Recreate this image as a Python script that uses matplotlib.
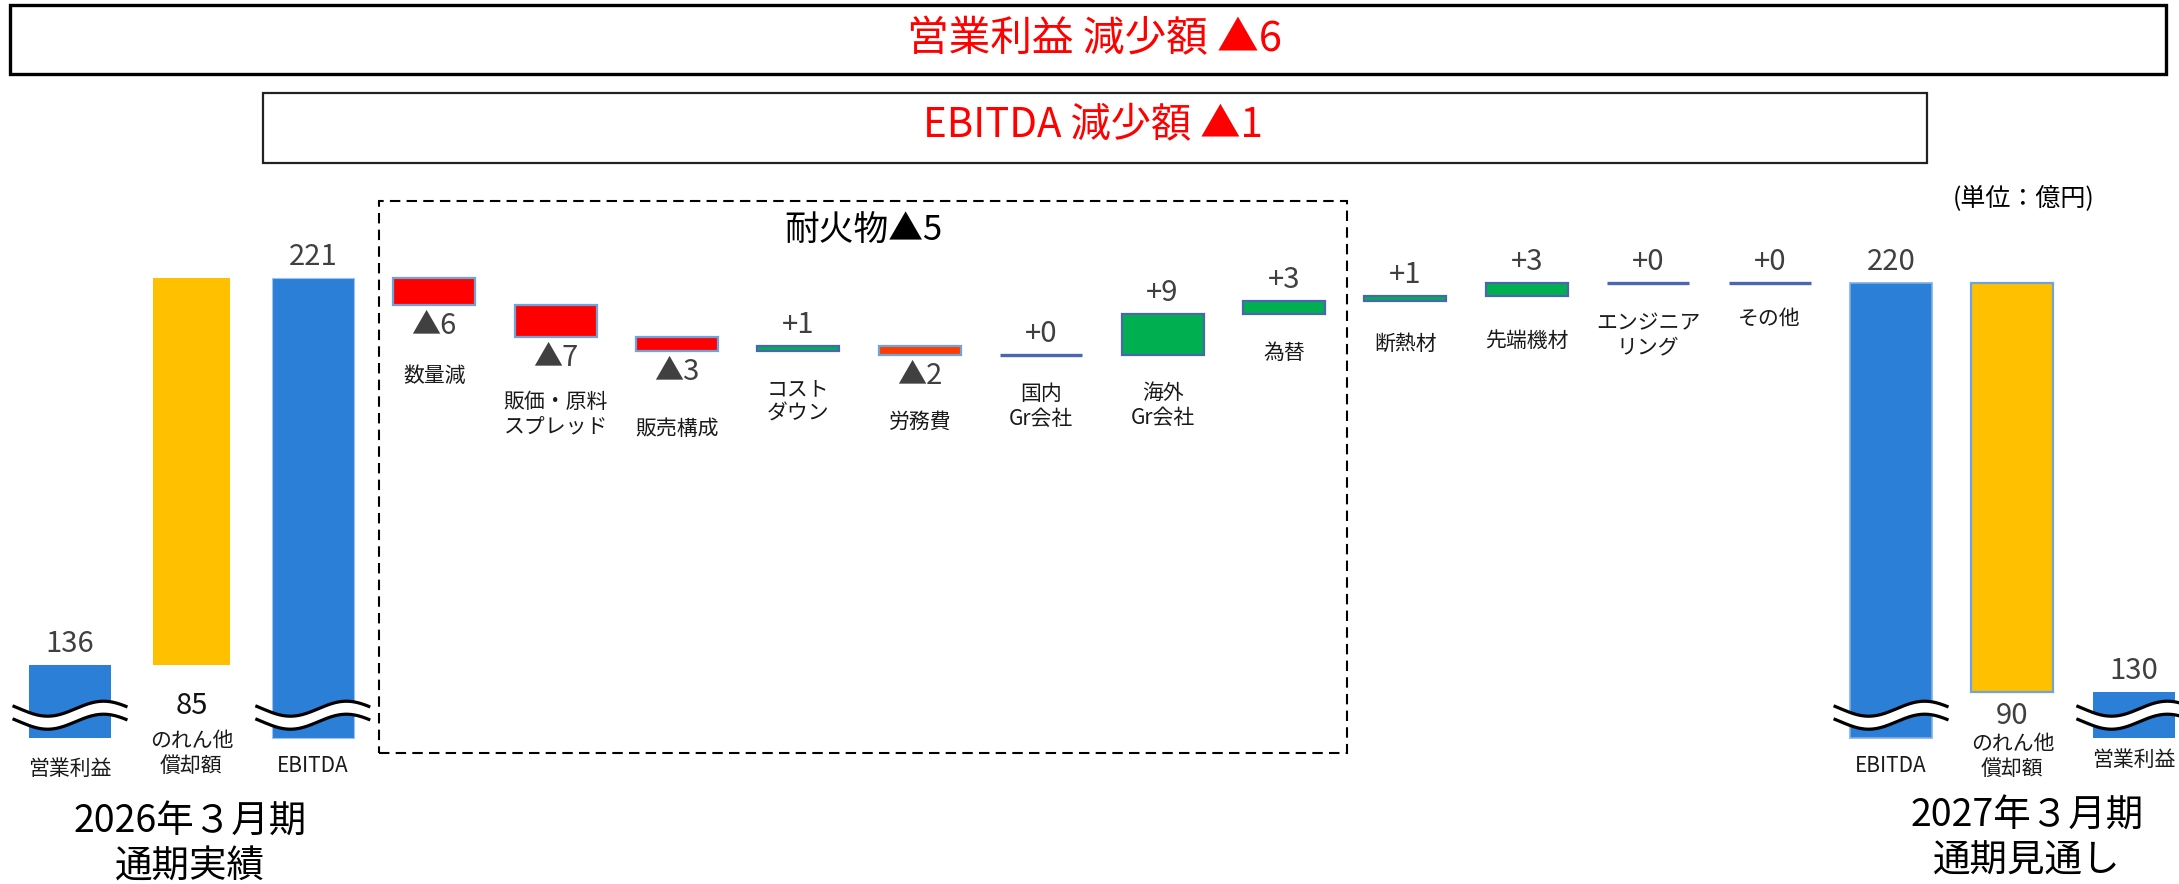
import matplotlib
matplotlib.use("Agg")
import matplotlib.pyplot as plt
import numpy as np
from matplotlib.patches import Rectangle

plt.rcParams['font.family'] = ['Noto Sans CJK JP', 'DejaVu Sans']

# ---------------- data ----------------
op_2026 = 136
da_2026 = 85
ebitda_2026 = 221
left_labels = ["営業利益", "のれん他\n償却額", "EBITDA"]

step_labels = ["数量減", "販価・原料\nスプレッド", "販売構成", "コスト\nダウン", "労務費",
               "国内\nGr会社", "海外\nGr会社", "為替",
               "断熱材", "先端機材", "エンジニア\nリング", "その他"]
step_values = [-6, -7, -3, 1, -2, 0, 9, 3, 1, 3, 0, 0]
n_refractory = 8  # first 8 steps belong to 耐火物

ebitda_2027 = 220
da_2027 = 90
op_2027 = 130
right_labels = ["EBITDA", "のれん他\n償却額", "営業利益"]

period_left = "2026年３月期\n通期実績"
period_right = "2027年３月期\n通期見通し"
unit_text = "(単位：億円)"

# ---------------- layout / style ----------------
W, H = 2179, 884
BLUE = "#2B7FD7"
YELLOW = "#FFC000"
RED = "#FF0000"
ORANGE_RED = "#FF3B00"
GREEN = "#00B050"
EDGE_LIGHT = "#6FA3DA"
EDGE_DARK = "#4A66B0"
GREY = "#404040"

BASE = 120          # truncated-axis visual baseline
BAR_W = 0.675

fig = plt.figure(figsize=(W / 100, H / 100), dpi=100)
ax = fig.add_axes([0, 0, 1, 1])
ax.set_xlim(-0.5766, 17.372)
ax.set_ylim(87.8, 282.1)
ax.axis("off")

PXX = (17.372 + 0.5766) / W
PXY = (282.1 - 87.8) / H


def fx(px):
    return px / W


def fy(py):
    return 1 - py / H


def fmt(v):
    return f"▲{abs(v)}" if v < 0 else f"+{v}"


def px2pt(p):
    return p * 0.72


# ----- left group -----
ax.bar(0, op_2026 - BASE, bottom=BASE, width=BAR_W, color=BLUE, zorder=2)
ax.bar(1, da_2026, bottom=op_2026, width=BAR_W * 0.93, color=YELLOW, zorder=2)
ax.bar(2, ebitda_2026 - BASE, bottom=BASE, width=BAR_W, color=BLUE,
       edgecolor="#9CC3EA", linewidth=0.8, zorder=2)

# ----- waterfall steps -----
level = ebitda_2026
step_x = np.arange(3, 3 + len(step_values))
for xi, v, lab in zip(step_x, step_values, step_labels):
    lo, hi = min(level, level + v), max(level, level + v)
    if v < 0:
        fc = ORANGE_RED if lab == "労務費" else RED
        ax.bar(xi, hi - lo, bottom=lo, width=BAR_W, color=fc,
               edgecolor=EDGE_LIGHT, linewidth=1.6, zorder=2)
    elif v > 0:
        ax.bar(xi, hi - lo, bottom=lo, width=BAR_W, color=GREEN,
               edgecolor=EDGE_DARK, linewidth=1.6, zorder=2)
    else:
        ax.hlines(level, xi - BAR_W / 2, xi + BAR_W / 2, color=EDGE_DARK,
                  linewidth=2.4, zorder=2)
    # value label
    if v < 0:
        ax.annotate(fmt(v), (xi, lo), xytext=(0, -px2pt(21)), textcoords="offset points",
                    ha="center", va="center", fontsize=21, color=GREY)
    else:
        ax.annotate(fmt(v), (xi, hi), xytext=(0, px2pt(21)), textcoords="offset points",
                    ha="center", va="center", fontsize=21, color=GREY)
    level = level + v

# category label offsets (px below bar bottom) for the steps
cat_off = [71, 77, 78, 51, 66, 51, 50, 39, 43, 45, 53, 36]
level = ebitda_2026
for xi, v, lab, off in zip(step_x, step_values, step_labels, cat_off):
    lo = min(level, level + v)
    ax.annotate(lab, (xi, lo), xytext=(0, -px2pt(off)), textcoords="offset points",
                ha="center", va="center", fontsize=15, color="#1a1a1a", linespacing=1.15)
    level = level + v

# ----- right group -----
xr = 3 + len(step_values)
ax.bar(xr, ebitda_2027 - BASE, bottom=BASE, width=BAR_W, color=BLUE,
       edgecolor="#7FB0E5", linewidth=1.2, zorder=2)
ax.bar(xr + 1, da_2027, bottom=ebitda_2027 - da_2027, width=BAR_W, color=YELLOW,
       edgecolor=EDGE_LIGHT, linewidth=1.6, zorder=2)
ax.bar(xr + 2, op_2027 - BASE, bottom=BASE, width=BAR_W, color=BLUE, zorder=2)

# ----- value labels for totals -----
for xi, val in [(0, op_2026), (2, ebitda_2026), (xr, ebitda_2027), (xr + 2, op_2027)]:
    ax.annotate(f"{val}", (xi, val), xytext=(0, px2pt(21)), textcoords="offset points",
                ha="center", va="center", fontsize=21, color=GREY)
ax.annotate(f"{da_2026}", (1, BASE), xytext=(0, px2pt(32)), textcoords="offset points",
            ha="center", va="center", fontsize=21, color="#111111")
ax.annotate(f"{da_2027}", (xr + 1, BASE), xytext=(0, px2pt(22)), textcoords="offset points",
            ha="center", va="center", fontsize=21, color=GREY)

# ----- category labels for totals -----
for xi, lab, off in [(0, left_labels[0], 31), (1, left_labels[1], 16), (2, left_labels[2], 28),
                     (xr, right_labels[0], 28), (xr + 1, right_labels[1], 19),
                     (xr + 2, right_labels[2], 22)]:
    ax.annotate(lab, (xi, BASE), xytext=(0, -px2pt(off)), textcoords="offset points",
                ha="center", va="center", fontsize=15, color="#1a1a1a", linespacing=1.15)

# ----- wavy break marks -----
t = np.linspace(0, 1, 200)
hw = BAR_W / 2 + 15 * PXX
amp = 7.5 * PXY
for xi in [0, 2, xr, xr + 2]:
    xs = xi - hw + 2 * hw * t
    yc = BASE + 4.9
    ys = yc - amp * np.sin(2 * np.pi * (t - 0.05))
    ax.plot(xs, ys, color="white", linewidth=px2pt(14), solid_capstyle="butt", zorder=4)
    ax.plot(xs, ys + 6.5 * PXY, color="black", linewidth=px2pt(3.2), zorder=5)
    ax.plot(xs, ys - 6.5 * PXY, color="black", linewidth=px2pt(3.2), zorder=5)

# ----- dashed refractory box -----
fig.patches.append(Rectangle((fx(379), fy(753)), fx(1347) - fx(379), fy(201) - fy(753),
                             transform=fig.transFigure, fill=False, edgecolor="black",
                             linewidth=1.5, linestyle=(0, (5, 3)), zorder=1))
ref_total = sum(step_values[:n_refractory])
fig.text(fx(863), fy(230), f"耐火物{fmt(ref_total)}", ha="center", va="center",
         fontsize=25, color="black")

# ----- top boxes -----
fig.patches.append(Rectangle((fx(10), fy(74)), fx(2166) - fx(10), fy(5) - fy(74),
                             transform=fig.transFigure, fill=False, edgecolor="black",
                             linewidth=2.4))
fig.patches.append(Rectangle((fx(263), fy(163)), fx(1927) - fx(263), fy(93) - fy(163),
                             transform=fig.transFigure, fill=False, edgecolor="#222222",
                             linewidth=1.6))
fig.text(fx(1094), fy(40), f"営業利益 減少額 {fmt(op_2027 - op_2026)}", ha="center",
         va="center", fontsize=30, color="#FF0000")
fig.text(fx(1093), fy(126), f"EBITDA 減少額 {fmt(ebitda_2027 - ebitda_2026)}", ha="center",
         va="center", fontsize=29, color="#FF0000")

# unit
fig.text(fx(2024), fy(199), unit_text, ha="center", va="center", fontsize=18, color="black")

# period titles
fig.text(fx(190), fy(845), period_left, ha="center", va="center", fontsize=27,
         color="black", linespacing=1.2)
fig.text(fx(2027), fy(839), period_right, ha="center", va="center", fontsize=27,
         color="black", linespacing=1.2)

fig.savefig("out.png", dpi=100)
